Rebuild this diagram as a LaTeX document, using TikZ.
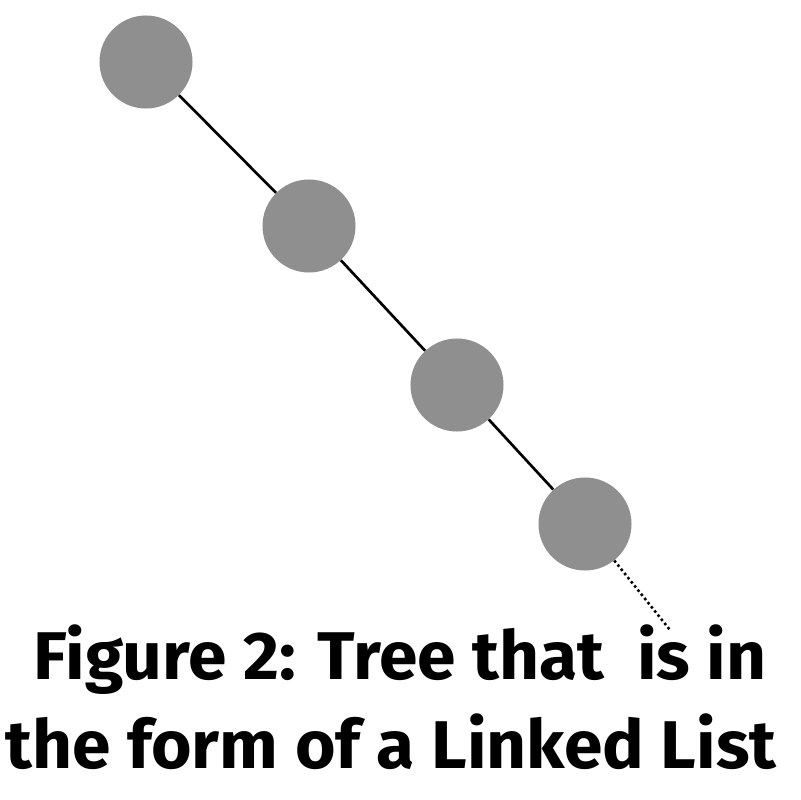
\documentclass[tikz,border=0pt]{standalone}
\usepackage{fontspec}
\setmainfont{Fira Sans}
\usetikzlibrary{positioning}
\definecolor{nodegray}{RGB}{143,143,143}

\begin{document}
\begin{tikzpicture}[x=0.025cm, y=-0.025cm,
    noeud/.style={circle, fill=nodegray, minimum size=2.325cm, inner sep=0pt},
    legende/.style={font=\bfseries\fontsize{48}{48}\selectfont, anchor=base, inner sep=0pt, xscale=1.03}]
    \useasboundingbox (0,0) rectangle (800,800);
    % Noeuds
    \node[noeud] (n1) at (146,62) {};
    \node[noeud] (n2) at (309,226) {};
    \node[noeud] (n3) at (457,385) {};
    \node[noeud] (n4) at (585,524) {};
    \coordinate (fin) at (670,630);

    % Liens
    \draw[line width=1.9pt] (n1) -- (n2);
    \draw[line width=1.9pt] (n2) -- (n3);
    \draw[line width=1.9pt] (n3) -- (n4);
    \draw[dotted, line width=1.8pt] (n4) -- (fin);

    % Texte sous
    \node[legende] (titre1) at (400,679) {Figure 2: Tree that~~is in};
    \node[legende] (titre2) at (391,768) {the form of a Linked List};
\end{tikzpicture}
\end{document}
